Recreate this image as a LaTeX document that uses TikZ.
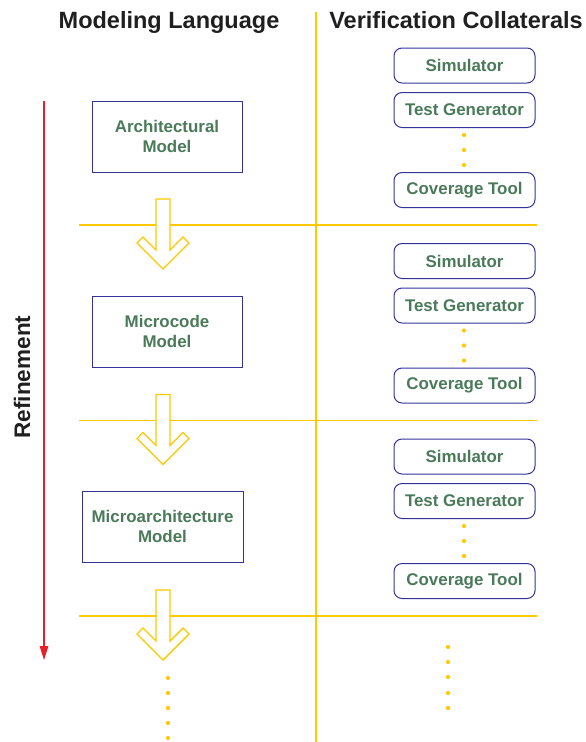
\documentclass[tikz,border=0pt]{standalone}
\usepackage{fontspec}
\setmainfont{Liberation Sans}
\usetikzlibrary{arrows.meta}
\definecolor{gold}{RGB}{255,200,0}
\definecolor{navy}{RGB}{51,51,153}
\definecolor{leaf}{RGB}{74,122,90}
\definecolor{alarm}{RGB}{235,30,40}

\begin{document}
\begin{tikzpicture}[x=1pt,y=-1pt,
  title/.style={font=\fontsize{23.5}{28}\selectfont\bfseries, text=black!88, inner sep=0pt},
  modelbox/.style={draw=navy, line width=1pt, align=center, text=leaf,
    font=\fontsize{16.9}{20.5}\selectfont\bfseries, inner sep=0pt, minimum height=71pt},
  toolbox/.style={draw=navy, line width=1pt, rounded corners=8pt, text=leaf,
    font=\fontsize{16.9}{20}\selectfont\bfseries, inner sep=0pt,
    minimum width=141pt, minimum height=35pt},
  divider/.style={draw=gold, line width=1.6pt},
  flow/.style={draw=gold, fill=white, line width=1.4pt, line join=miter},
  redline/.style={draw=alarm, line width=1.4pt},
]
\useasboundingbox (0,0) rectangle (586,742);

% column titles
\node[title, anchor=base] (lang) at (169,28.5) {Modeling Language};
\node[title, anchor=base] (coll) at (456,28.5) {Verification Collaterals};

% column divider
\coordinate (vtop) at (316,12);
\coordinate (vbot) at (316,742);
\draw[divider] (vtop) -- (vbot);

% refinement axis
\node[font=\fontsize{22.5}{26}\selectfont\bfseries, text=black!88, rotate=90, inner sep=0pt]
  (refine) at (22,377) {Refinement};
\coordinate (rtop) at (44,101);
\coordinate (rend) at (44,660);
\draw[redline, -{Triangle[length=14pt,width=8.5pt]}] (rtop) -- (rend);

% three refinement stages
\foreach \k/\name in {0/a,1/b,2/c}{
  \pgfmathsetmacro{\dy}{195.5*\k}
  \begin{scope}[yshift=-\dy pt]
    % stage separator
    \coordinate (l\name) at (79,225);
    \coordinate (r\name) at (537,225);
    \draw[divider] (l\name) -- (r\name);
    % hollow block arrow
    \begin{scope}[shift={(163,199)}]
      \draw[flow] (-7,0) -- (7,0) -- (7,51) -- (20,38) -- (26,44) -- (0,70)
        -- (-26,44) -- (-20,38) -- (-7,51) -- cycle;
    \end{scope}
    % verification tools
    \node[toolbox] (sim\name) at (464.5,65.5) {Simulator};
    \node[toolbox] (gen\name) at (464.5,110) {Test Generator};
    \node[toolbox] (cov\name) at (464.5,190) {Coverage Tool};
    \foreach \y in {135,150,165}{\fill[gold] (464,\y) circle (2.1pt);}
  \end{scope}
}

% models
\node[modelbox, minimum width=150pt] (arch) at (167,136.5) {Architectural\\Model};
\node[modelbox, minimum width=150pt] (micro) at (167,331.5) {Microcode\\Model};
\node[modelbox, minimum width=161pt] (march) at (162.5,526.5) {Microarchitecture\\Model};

% continuation dots
\foreach \y in {678,693,708,723,738}{\fill[gold] (168,\y) circle (2.1pt);}
\foreach \y in {647,662,677,693,708}{\fill[gold] (448,\y) circle (2.1pt);}
\end{tikzpicture}
\end{document}
